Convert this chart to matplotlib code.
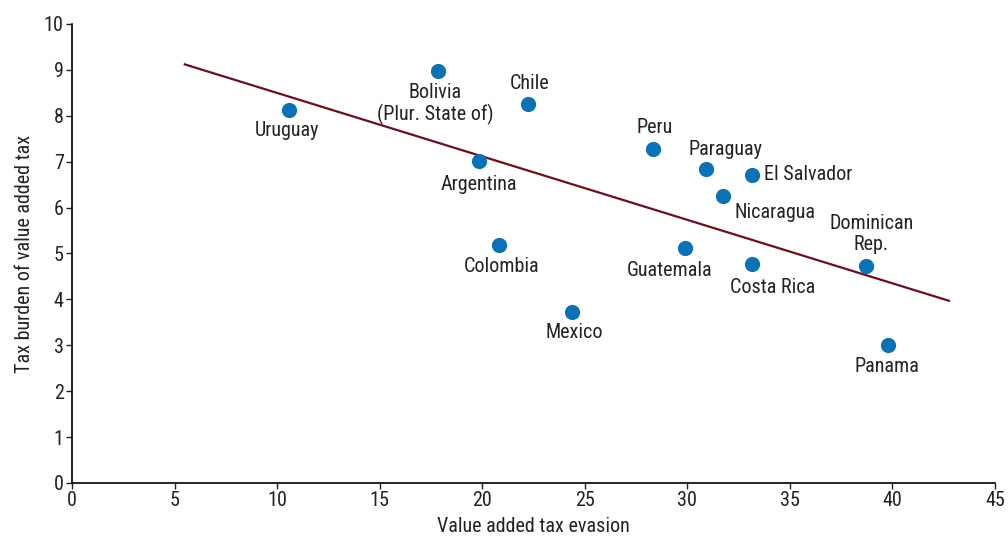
import matplotlib
matplotlib.use("Agg")
import matplotlib.pyplot as plt

plt.rcParams['font.family'] = ['Roboto Condensed', 'Liberation Sans Narrow', 'Roboto', 'DejaVu Sans']

# 数据
countries = ["Uruguay", "Bolivia\n(Plur. State of)", "Chile", "Argentina", "Colombia",
             "Mexico", "Peru", "Paraguay", "El Salvador", "Nicaragua", "Guatemala",
             "Costa Rica", "Dominican\nRep.", "Panama"]
evasion = [10.6, 17.85, 22.25, 19.85, 20.8, 24.4, 28.35, 30.9, 33.15, 31.75, 29.9,
           33.15, 38.7, 39.8]
burden = [8.13, 8.98, 8.26, 7.02, 5.18, 3.73, 7.27, 6.84, 6.72, 6.26, 5.11,
          4.77, 4.73, 3.0]
trend_x = [5.5, 42.75]
trend_y = [9.12, 3.97]

# 标签偏移 (points)
offsets = [(-2, -15, 'center'), (-2, -24, 'center'), (1, 15, 'center'), (0, -17, 'center'),
           (2, -15, 'center'), (1, -15, 'center'), (1, 16, 'center'), (14, 14, 'center'),
           (9, 0, 'left'), (37, -12, 'center'), (-11, -16, 'center'), (15, -17, 'center'),
           (4, 23, 'center'), (-1, -15, 'center')]

fig = plt.figure(figsize=(10.08, 5.39), dpi=100)
ax = fig.add_axes([0.0714, 0.1039, 0.9157, 0.8516])

ax.plot(trend_x, trend_y, color='#6B0F1E', linewidth=1.6, zorder=2)
ax.scatter(evasion, burden, s=120, color='#0A72B5', zorder=3, linewidths=0)

for name, x, y, (dx, dy, ha) in zip(countries, evasion, burden, offsets):
    ax.annotate(name, (x, y), xytext=(dx, dy), textcoords='offset points',
                ha=ha, va='center', fontsize=14.5, color='#222222',
                linespacing=1.15)

ax.set_xlim(0, 45)
ax.set_ylim(0, 10)
ax.set_xticks(range(0, 46, 5))
ax.set_yticks(range(0, 11))
ax.tick_params(labelsize=14.5, length=4, width=1, direction='out', colors='#222222', pad=2)
for s in ['top', 'right']:
    ax.spines[s].set_visible(False)
for s in ['left', 'bottom']:
    ax.spines[s].set_linewidth(1.2)

ax.set_xlabel("Value added tax evasion", fontsize=14.5, color='#222222', labelpad=5)
ax.set_ylabel("Tax burden of value added tax", fontsize=14.5, color='#222222', labelpad=7)

fig.savefig("out.png", dpi=100)
plt.close(fig)
